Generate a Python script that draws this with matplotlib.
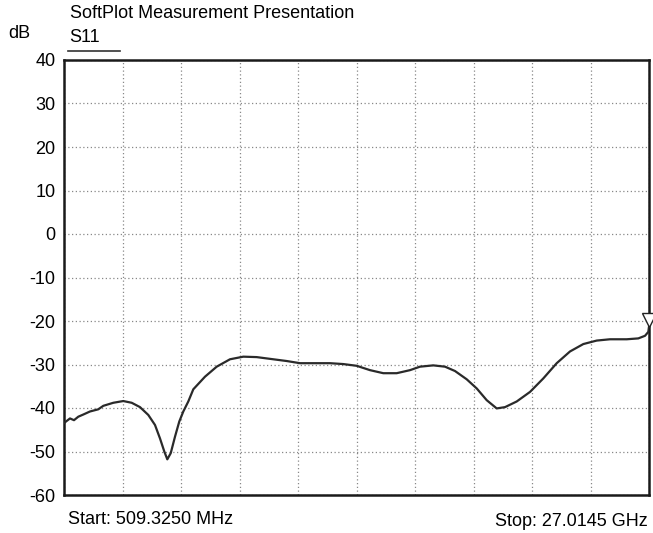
import numpy as np
import matplotlib
matplotlib.use("Agg")
import matplotlib.pyplot as plt

plt.rcParams["font.family"] = ["Liberation Sans", "DejaVu Sans"]

# ─── Data ───
f_start = 0.509325  # GHz
f_stop = 27.0145    # GHz
freq_ghz = [0.509, 0.600, 0.781, 0.962, 1.157, 1.384, 1.687, 2.063, 2.290, 2.743,
            3.196, 3.577, 3.953, 4.329, 4.632, 4.859, 5.054, 5.190, 5.344, 5.538,
            5.733, 5.915, 6.141, 6.368, 6.898, 7.428, 8.030, 8.633, 9.240, 9.992,
            10.599, 11.202, 11.805, 12.561, 13.164, 13.771, 14.374, 14.976, 15.583, 16.186,
            16.639, 17.241, 17.772, 18.225, 18.755, 19.208, 19.661, 20.115, 20.491, 21.021,
            21.624, 22.226, 22.833, 23.436, 24.039, 24.645, 25.248, 26.005, 26.530, 26.834,
            26.984, 27.0145]
s11_db = [-43.5, -43.1, -42.4, -42.8, -42.0, -41.5, -40.8, -40.3, -39.5, -38.8,
          -38.4, -38.8, -39.8, -41.6, -43.9, -47.0, -50.0, -51.8, -50.4, -46.6,
          -43.1, -40.8, -38.5, -35.7, -32.8, -30.5, -28.8, -28.2, -28.3, -28.8,
          -29.2, -29.7, -29.7, -29.7, -29.9, -30.3, -31.3, -32.0, -32.0, -31.3,
          -30.5, -30.2, -30.5, -31.5, -33.4, -35.5, -38.2, -40.1, -39.8, -38.5,
          -36.3, -33.2, -29.7, -27.0, -25.3, -24.5, -24.2, -24.2, -24.0, -23.4,
          -22.5, -21.3]
y_ticks = [40, 30, 20, 10, 0, -10, -20, -30, -40, -50, -60]

# ─── Figure ───
fig = plt.figure(figsize=(6.53, 5.33), dpi=100)
ax = fig.add_axes([64 / 653, 38 / 533, 585 / 653, 435 / 533])

ax.plot(freq_ghz, s11_db, color="#2a2a2a", linewidth=1.6, zorder=3,
        solid_joinstyle="round", solid_capstyle="round")
# marker at stop frequency (tip sits on the trace end)
ax.plot(freq_ghz[-1], s11_db[-1] + 1.6, marker="v", markersize=10, markerfacecolor="white",
        markeredgecolor="#222222", markeredgewidth=1.0, clip_on=False, zorder=4)

ax.set_xlim(f_start, f_stop)
ax.set_ylim(-60, 40)
ax.set_xticks(np.linspace(f_start, f_stop, 11))
ax.set_xticklabels([])
ax.set_yticks(y_ticks)
ax.set_yticklabels([str(v) for v in y_ticks], fontsize=13)
ax.tick_params(length=0, pad=6)
ax.grid(True, color="#888888", linestyle=(0, (1, 2)), linewidth=0.9)
for s in ax.spines.values():
    s.set_linewidth(1.8)
    s.set_color("#1a1a1a")

fig.text(70 / 653, 1 - 13 / 533, "SoftPlot Measurement Presentation", fontsize=13,
         ha="left", va="center")
fig.text(8 / 653, 1 - 33 / 533, "dB", fontsize=13, ha="left", va="center")
fig.text(69 / 653, 1 - 37 / 533, "S11", fontsize=13, ha="left", va="center")
fig.add_artist(plt.Line2D([68 / 653, 120 / 653], [1 - 51 / 533, 1 - 51 / 533],
                          color="#333333", linewidth=1.2))
fig.text(68 / 653, 1 - 520 / 533, "Start: 509.3250 MHz", fontsize=13, ha="left", va="center")
fig.text(648 / 653, 1 - 522 / 533, "Stop: 27.0145 GHz", fontsize=13, ha="right", va="center")

plt.savefig("out.png", dpi=100)
plt.close()
